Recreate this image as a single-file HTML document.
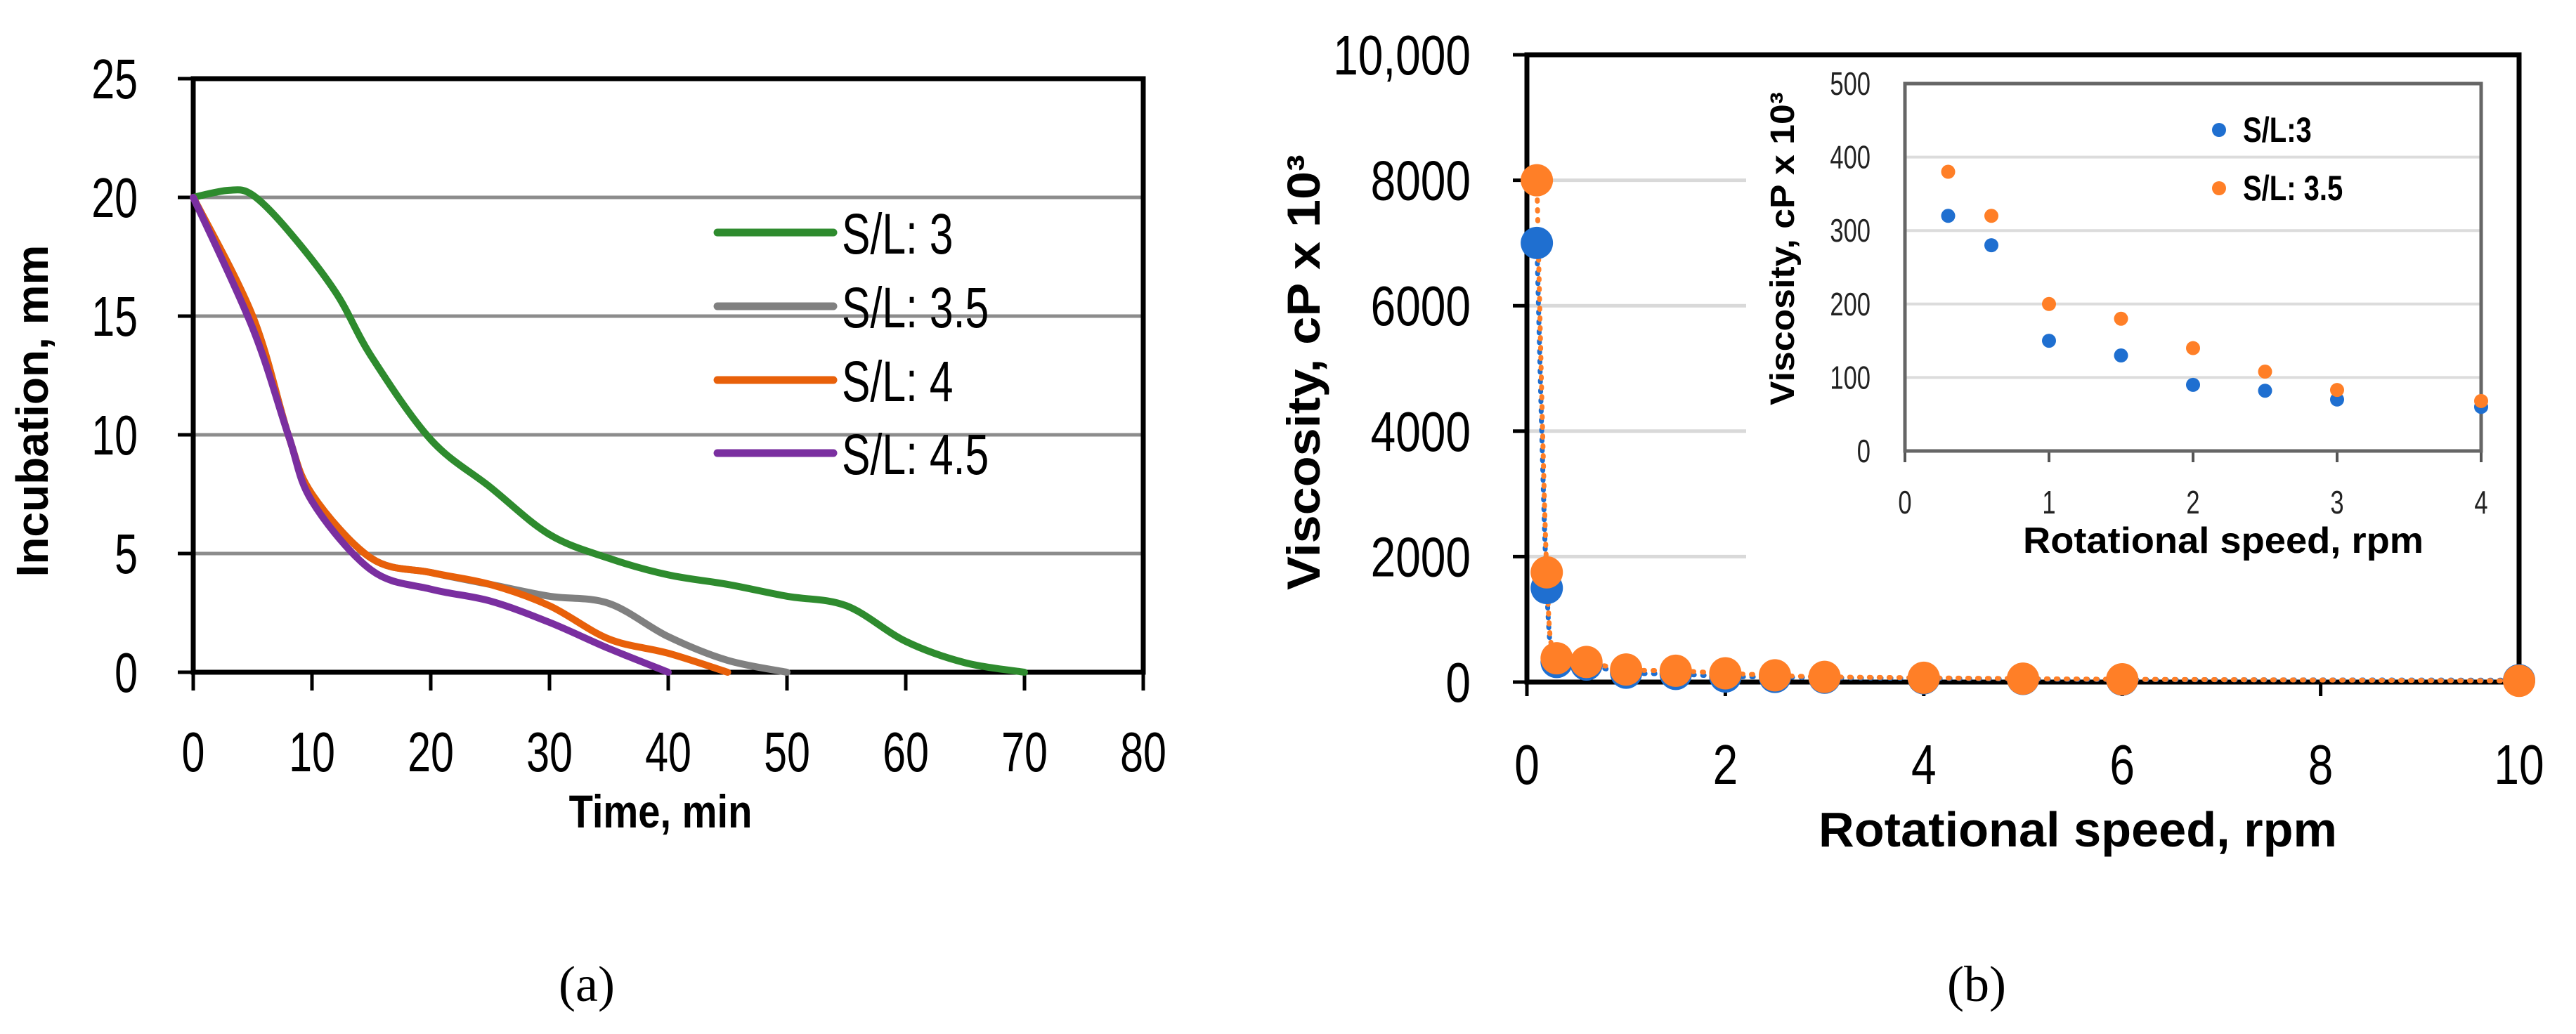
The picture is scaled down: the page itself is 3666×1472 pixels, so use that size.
<!DOCTYPE html>
<html><head><meta charset="utf-8"><style>
html,body{margin:0;padding:0;background:#fff;}
svg{display:block;}
text{font-family:"Liberation Sans",sans-serif;}
.b{font-weight:bold;}
.serif{font-family:"Liberation Serif",serif;}
</style></head><body>
<svg id="svg" width="3666" height="1472" viewBox="0 0 3666 1472" xmlns="http://www.w3.org/2000/svg">
<rect width="3666" height="1472" fill="#fff"/>
<g id="ga"></g>
<g id="gb"></g>
<text class="serif" x="835" y="1425" font-size="72" text-anchor="middle">(a)</text>
<text class="serif" x="2813" y="1425" font-size="72" text-anchor="middle">(b)</text>
</svg>
<script>
// ---------- Chart A data ----------
const aXTicks = [0,10,20,30,40,50,60,70,80];
const aYTicks = [0,5,10,15,20,25];
const aNames = ["S/L: 3","S/L: 3.5","S/L: 4","S/L: 4.5"];
const aColors = ["#2e8b2e","#808080","#e8600a","#7a2fa0"];
const aT1 = [0,3,5,8,12,15,20,25,30,35,40,45,50,55,60,65,70];
const aV1 = [20,20.3,20.1,18.6,16,13.3,9.8,7.8,5.8,4.8,4.1,3.7,3.2,2.8,1.3,0.4,0];
const aT2 = [0,5,8,10,15,20,25,30,35,40,45,50];
const aV2 = [20,15,10,7.5,4.8,4.2,3.7,3.2,2.9,1.5,0.5,0];
const aT3 = [0,5,8,10,15,20,25,30,35,40,45];
const aV3 = [20,15,10,7.5,4.8,4.2,3.7,2.8,1.4,0.8,0];
const aT4 = [0,5,8,10,15,20,25,30,35,40];
const aV4 = [20,14.5,10,7.2,4.3,3.5,3.0,2.1,1.0,0];

// ---------- Chart B data ----------
const bXTicks = [0,2,4,6,8,10];
const bYTicks = [0,2000,4000,6000,8000,10000];
const bYTickLabels = ["0","2000","4000","6000","8000","10,000"];
const bX = [0.1,0.2,0.3,0.6,1,1.5,2,2.5,3,4,5,6,10];
const bBlue = [7000,1500,320,280,150,130,90,82,70,60,50,40,30];
const bOrange = [8000,1750,380,320,200,180,140,108,83,68,55,45,20];
const inX = [0.3,0.6,1,1.5,2,2.5,3,4];
const inBlue = [320,280,150,130,90,82,70,60];
const inOrange = [380,320,200,180,140,108,83,68];
const inXTicks = [0,1,2,3,4];
const inYTicks = [0,100,200,300,400,500];

const NS="http://www.w3.org/2000/svg";
function mk(parent,tag,attrs,txt){const e=document.createElementNS(NS,tag);for(const k in attrs)e.setAttribute(k,attrs[k]);if(txt!==undefined)e.textContent=txt;parent.appendChild(e);return e;}
function cond(t,f){const w=t.getComputedTextLength();if(w>0){t.setAttribute('textLength',(w*f).toFixed(1));t.setAttribute('lengthAdjust','spacingAndGlyphs');}return t;}
function smooth(pts){let d="M"+pts[0][0]+","+pts[0][1];for(let i=0;i<pts.length-1;i++){const p0=pts[Math.max(0,i-1)],p1=pts[i],p2=pts[i+1],p3=pts[Math.min(pts.length-1,i+2)];const c1=[p1[0]+(p2[0]-p0[0])/6,p1[1]+(p2[1]-p0[1])/6],c2=[p2[0]-(p3[0]-p1[0])/6,p2[1]-(p3[1]-p1[1])/6];d+=" C"+c1[0]+","+c1[1]+" "+c2[0]+","+c2[1]+" "+p2[0]+","+p2[1];}return d;}

// ===== Chart A =====
(function(){
const g=document.getElementById('ga');
const L=275,R=1627,T=112,B=957;
const ax=v=>L+(v-0)/80*(R-L), ay=v=>B-(v/25)*(B-T);
aYTicks.forEach(v=>{
  if(v>0&&v<25){const l=mk(g,'line',{x1:L,x2:R,y1:ay(v),y2:ay(v),stroke:'#8c8c8c','stroke-width':5});
  
  }
  const tk=mk(g,'line',{x1:L-22,x2:L,y1:ay(v),y2:ay(v),stroke:'#000','stroke-width':5});
  
  
  const t=mk(g,'text',{x:196,y:ay(v)+28,'font-size':80,'text-anchor':'end'},String(v));
  
  
  cond(t,0.74);
});
aXTicks.forEach(v=>{
  const tk=mk(g,'line',{x1:ax(v),x2:ax(v),y1:B,y2:B+26,stroke:'#000','stroke-width':5});
  
  
  const t=mk(g,'text',{x:ax(v),y:1098,'font-size':80,'text-anchor':'middle'},String(v));
  
  
  cond(t,0.74);
});
const fr=mk(g,'rect',{x:L,y:T,width:R-L,height:B-T,fill:'none',stroke:'#000','stroke-width':7});


const series=[[aT1,aV1],[aT2,aV2],[aT3,aV3],[aT4,aV4]];
series.forEach((s,i)=>{
  const pts=s[0].map((t,j)=>[ax(t),ay(s[1][j])]);
  const p=mk(g,'path',{d:smooth(pts),fill:'none',stroke:aColors[i],'stroke-width':10,'stroke-linecap':'round','stroke-linejoin':'round'});
  
  
});
const ly=[331,436,541,645];
aNames.forEach((n,i)=>{
  const l=mk(g,'line',{x1:1021,x2:1186,y1:ly[i],y2:ly[i],stroke:aColors[i],'stroke-width':11,'stroke-linecap':'round'});
  
  
  const t=mk(g,'text',{x:1198,y:ly[i]+30,'font-size':82},n);
  
  
  cond(t,0.74);
});
const xt=mk(g,'text',{x:940,y:1178,'font-size':66,'text-anchor':'middle','class':'b'},'Time, min');


cond(xt,0.85);
const yt=mk(g,'text',{x:0,y:0,'font-size':64,'text-anchor':'middle','class':'b',transform:'translate(68,585) rotate(-90)'},'Incubation, mm');


})();

// ===== Chart B =====
(function(){
const g=document.getElementById('gb');
const L=2173,R=3585,T=78,B=971;
const bx=v=>L+v/10*(R-L), by=v=>B-v/10000*(B-T);
bYTicks.forEach((v,i)=>{
  if(v>0&&v<10000){const l=mk(g,'line',{x1:L,x2:2485,y1:by(v),y2:by(v),stroke:'#d9d9d9','stroke-width':5});
  
  }
  const tk=mk(g,'line',{x1:L-20,x2:L,y1:by(v),y2:by(v),stroke:'#000','stroke-width':5});
  
  
  const t=mk(g,'text',{x:2093,y:by(v)+28,'font-size':80,'text-anchor':'end'},bYTickLabels[i]);
  
  
  cond(t,0.8);
});
bXTicks.forEach(v=>{
  const tk=mk(g,'line',{x1:bx(v),x2:bx(v),y1:B,y2:B+20,stroke:'#000','stroke-width':5});
  
  
  const t=mk(g,'text',{x:bx(v),y:1116,'font-size':80,'text-anchor':'middle'},String(v));
  
  
  cond(t,0.8);
});
const fr=mk(g,'rect',{x:L,y:T,width:R-L,height:B-T,fill:'none',stroke:'#000','stroke-width':7});


[[bBlue,'#1f6fd0'],[bOrange,'#ff7f27']].forEach((s,i)=>{
  const pts=bX.map((x,j)=>[bx(x),by(s[0][j])]);
  const p=mk(g,'path',{d:smooth(pts),fill:'none',stroke:s[1],'stroke-width':7,'stroke-dasharray':'2 12','stroke-linecap':'round'});
  
  
});
bX.forEach((x,j)=>{
  const c=mk(g,'circle',{cx:bx(x),cy:by(bBlue[j]),r:23,fill:'#1f6fd0'});
  
  
});
bX.forEach((x,j)=>{
  const c=mk(g,'circle',{cx:bx(x),cy:by(bOrange[j]),r:23,fill:'#ff7f27'});
  
  
});
const xt=mk(g,'text',{x:2957,y:1205,'font-size':70,'text-anchor':'middle','class':'b',textLength:738,lengthAdjust:'spacingAndGlyphs'},'Rotational speed, rpm');


const yt=mk(g,'text',{x:0,y:0,'font-size':66,'text-anchor':'middle','class':'b',transform:'translate(1878,530) rotate(-90)',textLength:620,lengthAdjust:'spacingAndGlyphs'},'Viscosity, cP x 10³');



// ===== Inset =====
const ig=mk(g,'g',{});


mk(ig,'rect',{x:2488,y:84,width:1080,height:720,fill:'#fff'});
const IL=2711,IR=3531,IT=119,IB=642;
const ix=v=>IL+v/4*(IR-IL), iy=v=>IB-v/500*(IB-IT);
inYTicks.forEach(v=>{
  if(v>0&&v<500){const l=mk(ig,'line',{x1:IL,x2:IR,y1:iy(v),y2:iy(v),stroke:'#dcdcdc','stroke-width':4});
  
  }
  const t=mk(ig,'text',{x:2662,y:iy(v)+16,'font-size':46,'text-anchor':'end',fill:'#222'},String(v));
  
  
  cond(t,0.75);
});
inXTicks.forEach(v=>{
  const tk=mk(ig,'line',{x1:ix(v),x2:ix(v),y1:IB,y2:IB+16,stroke:'#555','stroke-width':4});
  
  
  const t=mk(ig,'text',{x:ix(v),y:731,'font-size':46,'text-anchor':'middle',fill:'#222'},String(v));
  
  
  cond(t,0.75);
});
const ifr=mk(ig,'rect',{x:IL,y:IT,width:IR-IL,height:IB-IT,fill:'none',stroke:'#666','stroke-width':5});


inX.forEach((x,j)=>{
  const c=mk(ig,'circle',{cx:ix(x),cy:iy(inBlue[j]),r:10,fill:'#1f6fd0'});
  
  
});
inX.forEach((x,j)=>{
  const c=mk(ig,'circle',{cx:ix(x),cy:iy(inOrange[j]),r:10,fill:'#ff7f27'});
  
  
});
const lg=[["S/L:3",'#1f6fd0',185],["S/L: 3.5",'#ff7f27',268]];
lg.forEach((e,i)=>{
  const c=mk(ig,'circle',{cx:3158,cy:e[2],r:10,fill:e[1]});
  
  
  const t=mk(ig,'text',{x:3192,y:e[2]+17,'font-size':50,'class':'b'},e[0]);
  
  
  cond(t,0.8);
});
const ixt=mk(ig,'text',{x:3164,y:787,'font-size':52,'text-anchor':'middle','class':'b',textLength:570,lengthAdjust:'spacingAndGlyphs'},'Rotational speed, rpm');


const iyt=mk(ig,'text',{x:0,y:0,'font-size':48,'text-anchor':'middle','class':'b',transform:'translate(2553,354) rotate(-90)',textLength:446,lengthAdjust:'spacingAndGlyphs'},'Viscosity, cP x 10³');


})();
</script>
</body></html>
